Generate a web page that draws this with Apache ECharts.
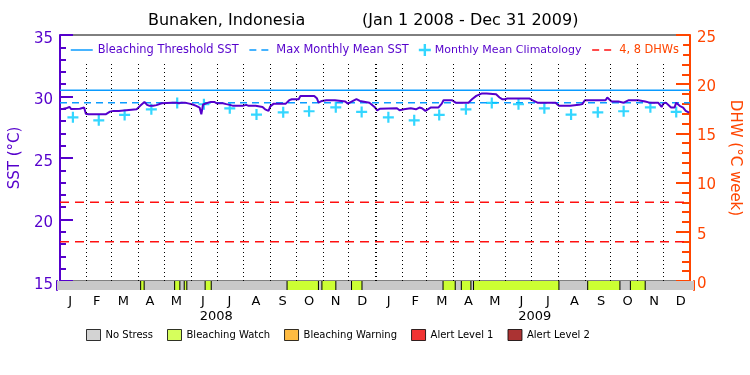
<!DOCTYPE html>
<html><head><meta charset="utf-8">
<script src="https://cdn.jsdelivr.net/npm/echarts@6/dist/echarts.min.js"></script>
<style>html,body{margin:0;padding:0;background:#fff}#c{width:750px;height:375px}</style>
</head><body><div id="c"></div>
<script>
const titleText = 'Bunaken, Indonesia';
const periodText = '(Jan 1 2008 - Dec 31 2009)';
const monthLabels = ['J','F','M','A','M','J','J','A','S','O','N','D','J','F','M','A','M','J','J','A','S','O','N','D'];
const yearLabels = ['2008','2009'];
const xStart = '2008-01-01';
const xEnd = '2010-01-01';
const monthStarts = ['2008-02-01','2008-03-01','2008-04-01','2008-05-01','2008-06-01','2008-07-01','2008-08-01','2008-09-01','2008-10-01','2008-11-01','2008-12-01','2009-01-01','2009-02-01','2009-03-01','2009-04-01','2009-05-01','2009-06-01','2009-07-01','2009-08-01','2009-09-01','2009-10-01','2009-11-01','2009-12-01'];
const yearStart = '2009-01-01';

const sstDates = ['2008-01-01','2008-01-05','2008-01-08','2008-01-12','2008-01-14','2008-01-24','2008-01-26','2008-01-29','2008-01-31','2008-02-03','2008-02-23','2008-02-25','2008-02-28','2008-03-03','2008-03-09','2008-03-11','2008-03-30','2008-04-01','2008-04-03','2008-04-08','2008-04-11','2008-04-14','2008-04-18','2008-04-22','2008-04-28','2008-05-10','2008-05-15','2008-05-18','2008-05-21','2008-05-23','2008-05-25','2008-05-30','2008-06-03','2008-06-07','2008-06-11','2008-06-13','2008-06-15','2008-06-17','2008-06-21','2008-06-24','2008-06-28','2008-07-01','2008-07-08','2008-07-12','2008-07-16','2008-07-20','2008-07-31','2008-08-04','2008-08-07','2008-08-15','2008-08-17','2008-08-23','2008-08-26','2008-08-28','2008-08-30','2008-09-01','2008-09-05','2008-09-19','2008-09-23','2008-09-26','2008-10-04','2008-10-06','2008-10-12','2008-10-14','2008-10-16','2008-10-22','2008-10-25','2008-10-27','2008-10-29','2008-10-31','2008-11-05','2008-11-15','2008-11-17','2008-11-27','2008-11-30','2008-12-06','2008-12-10','2008-12-14','2008-12-16','2008-12-25','2008-12-27','2008-12-31','2009-01-03','2009-01-06','2009-01-08','2009-01-26','2009-01-29','2009-02-03','2009-02-11','2009-02-17','2009-02-21','2009-02-24','2009-02-28','2009-03-02','2009-03-06','2009-03-15','2009-03-19','2009-03-21','2009-03-31','2009-04-04','2009-04-19','2009-04-23','2009-04-28','2009-05-04','2009-05-10','2009-05-12','2009-05-21','2009-05-25','2009-05-28','2009-05-31','2009-06-03','2009-06-29','2009-07-02','2009-07-04','2009-07-08','2009-07-29','2009-07-31','2009-08-02','2009-08-15','2009-08-17','2009-08-25','2009-08-29','2009-09-01','2009-09-25','2009-09-27','2009-09-29','2009-10-02','2009-10-10','2009-10-12','2009-10-16','2009-10-18','2009-10-22','2009-11-02','2009-11-04','2009-11-10','2009-11-15','2009-11-25','2009-11-27','2009-11-29','2009-12-01','2009-12-04','2009-12-06','2009-12-10','2009-12-14','2009-12-16','2009-12-20','2009-12-24','2009-12-27','2009-12-31'];
const sstValues = [28.96,29.0,29.04,29.15,28.98,29.0,29.1,29.1,28.6,28.55,28.55,28.7,28.77,28.83,28.83,28.96,28.96,29.04,29.24,29.56,29.32,29.24,29.24,29.3,29.45,29.5,29.5,29.45,29.5,29.59,29.5,29.42,29.35,29.24,29.1,28.55,29.35,29.5,29.5,29.56,29.56,29.45,29.45,29.38,29.32,29.24,29.24,29.32,29.24,29.24,29.32,29.15,28.96,28.83,28.83,29.2,29.42,29.42,29.7,29.78,29.78,30.05,30.05,29.92,30.05,30.05,29.86,29.5,29.5,29.64,29.7,29.7,29.59,29.59,29.42,29.64,29.78,29.64,29.5,29.5,29.42,29.15,28.88,29.0,29.04,29.04,28.88,28.96,29.04,28.96,29.1,29.04,28.83,28.96,29.1,29.1,29.42,29.7,29.7,29.5,29.5,29.78,30.05,30.24,30.24,30.18,30.18,29.92,29.78,29.78,29.83,29.83,29.7,29.59,29.5,29.5,29.38,29.24,29.24,29.32,29.32,29.38,29.7,29.7,29.92,29.78,29.59,29.59,29.5,29.5,29.64,29.7,29.7,29.59,29.59,29.5,29.5,29.4,29.15,29.42,29.5,29.42,29.1,29.1,29.5,29.24,29.1,28.83,28.69];

const climDates = ['2008-01-16','2008-02-15','2008-03-16','2008-04-16','2008-05-16','2008-06-16','2008-07-16','2008-08-16','2008-09-16','2008-10-16','2008-11-16','2008-12-16','2009-01-16','2009-02-15','2009-03-16','2009-04-16','2009-05-16','2009-06-16','2009-07-16','2009-08-16','2009-09-16','2009-10-16','2009-11-16','2009-12-16'];
const climValues = [28.31,28.06,28.5,28.96,29.48,29.37,29.04,28.53,28.71,28.8,29.12,28.75,28.31,28.06,28.5,28.96,29.48,29.37,29.04,28.53,28.71,28.8,29.12,28.75];

const bleachingThreshold = 30.5;
const maxMonthlyMean = 29.5;
const dhwLevels = [4, 8];

const statusNames = ['No Stress','Bleaching Watch','Bleaching Warning','Alert Level 1','Alert Level 2'];
const statusColors = ['#c8c8c8','#ccff33','#ffaa11','#ee0000','#960000'];
const watchStart = ['2008-04-06','2008-05-15','2008-05-26','2008-06-19','2008-09-21','2008-10-31','2008-12-04','2009-03-19','2009-04-09','2009-04-23','2009-09-01','2009-10-20'];
const watchEnd   = ['2008-04-10','2008-05-21','2008-05-29','2008-06-26','2008-10-27','2008-11-16','2008-12-16','2009-04-02','2009-04-20','2009-07-30','2009-10-08','2009-11-06'];
const watchLevel = [1,1,1,1,1,1,1,1,1,1,1,1];

const PURPLE = '#5500cc';
const ORANGE = '#ff4500';
const BLUE = '#0a9bff';
const CYAN = '#00ccff';
const RED = '#ff1010';

const sstData = sstDates.map((d, i) => [d, sstValues[i]]);
const climData = climDates.map((d, i) => [d, climValues[i]]);
const stripData = [[xStart, xEnd, 0]].concat(watchStart.map((s, i) => [s, watchEnd[i], watchLevel[i]]));
const dhwData = [];
dhwLevels.forEach((v, i) => { if (i) dhwData.push([xEnd, '-']); dhwData.push([xStart, v], [xEnd, v]); });

const noSymbol = {opacity: 0};
const chart = echarts.init(document.getElementById('c'), null, {renderer: 'canvas'});
chart.setOption({
  animation: false,
  backgroundColor: '#fff',
  textStyle: {fontFamily: 'DejaVu Sans'},
  title: [
    {text: titleText, left: 148, top: 13, padding: 0, textStyle: {fontSize: 16, fontWeight: 'normal', color: '#000', fontFamily: 'DejaVu Sans'}},
    {text: periodText, left: 362, top: 13, padding: 0, textStyle: {fontSize: 16, fontWeight: 'normal', color: '#000', fontFamily: 'DejaVu Sans'}}
  ],
  legend: [
    {
      left: 66, top: 36, padding: [8, 4, 6, 4], itemWidth: 22, itemHeight: 12, itemGap: 10,
      backgroundColor: '#fff', z: 10,
      textStyle: {fontSize: 11.4, color: PURPLE, fontFamily: 'DejaVu Sans'},
      data: [
        {name: 'Bleaching Threshold SST', itemStyle: noSymbol, lineStyle: {width: 1.5, type: 'solid'}},
        {name: 'Max Monthly Mean SST', itemStyle: noSymbol, lineStyle: {width: 1.5, type: [7, 5]}},
        {name: 'Monthly Mean Climatology', textStyle: {fontSize: 11, padding: [0, 0, 0, -6]}},
        {name: '4, 8 DHWs', itemStyle: noSymbol, lineStyle: {width: 1.5, type: [7, 5]}, textStyle: {color: ORANGE}}
      ]
    },
    {
      left: 86, top: 329, padding: 0, itemWidth: 14, itemHeight: 11, itemGap: 14, icon: 'rect',
      itemStyle: {borderColor: '#000', borderWidth: 1},
      textStyle: {fontSize: 10, color: '#000', fontFamily: 'DejaVu Sans'},
      data: statusNames
    }
  ],
  grid: [
    {left: 57, right: 56, top: 35, height: 246, show: true, borderColor: '#000', borderWidth: 1, backgroundColor: 'transparent'},
    {left: 57, right: 56, top: 281, height: 9, show: false}
  ],
  xAxis: [
    {type: 'time', gridIndex: 0, min: xStart, max: xEnd, axisLine: {show: false}, axisTick: {show: false}, axisLabel: {show: false}, splitLine: {show: false}},
    {type: 'time', gridIndex: 1, min: xStart, max: xEnd, show: false},
    {type: 'category', gridIndex: 1, position: 'bottom', data: monthLabels, axisLine: {show: false}, axisTick: {show: false},
     axisLabel: {interval: 0, margin: 5, fontSize: 13, color: '#000', fontFamily: 'DejaVu Sans'}},
    {type: 'category', gridIndex: 1, position: 'bottom', offset: 16, data: yearLabels, axisLine: {show: false}, axisTick: {show: false},
     axisLabel: {interval: 0, margin: 4, fontSize: 13, color: '#000', fontFamily: 'DejaVu Sans'}}
  ],
  yAxis: [
    {type: 'value', gridIndex: 0, position: 'left', min: 15, max: 35, interval: 5,
     name: 'SST (°C)', nameLocation: 'middle', nameRotate: 90, nameGap: 32,
     nameTextStyle: {fontSize: 15, color: PURPLE, fontFamily: 'DejaVu Sans'},
     axisLine: {show: true, lineStyle: {color: PURPLE, width: 2}},
     axisTick: {show: true, inside: true, length: 13, lineStyle: {color: PURPLE, width: 2}},
     minorTick: {show: true, splitNumber: 5, length: 6, lineStyle: {color: PURPLE, width: 2}},
     axisLabel: {fontSize: 15, color: PURPLE, margin: 7, verticalAlign: 'top', lineHeight: 8, fontFamily: 'DejaVu Sans'},
     splitLine: {show: false}},
    {type: 'value', gridIndex: 0, position: 'right', min: 0, max: 25, interval: 5,
     name: 'DHW (°C week)', nameLocation: 'middle', nameRotate: -90, nameGap: 30,
     nameTextStyle: {fontSize: 15, color: ORANGE, fontFamily: 'DejaVu Sans'},
     axisLine: {show: true, lineStyle: {color: ORANGE, width: 2}},
     axisTick: {show: true, inside: true, length: 14, lineStyle: {color: ORANGE, width: 2}},
     minorTick: {show: true, splitNumber: 5, length: 8, lineStyle: {color: ORANGE, width: 2}},
     axisLabel: {fontSize: 15, color: ORANGE, margin: 7, verticalAlign: 'top', lineHeight: 6, fontFamily: 'DejaVu Sans'},
     splitLine: {show: false}},
    {type: 'value', gridIndex: 1, position: 'left', min: 0, max: 1, axisLine: {show: true, lineStyle: {color: PURPLE, width: 2}}, axisTick: {show: false}, axisLabel: {show: false}, splitLine: {show: false}},
    {type: 'value', gridIndex: 1, position: 'right', min: 0, max: 1, axisLine: {show: true, lineStyle: {color: ORANGE, width: 2}}, axisTick: {show: false}, axisLabel: {show: false}, splitLine: {show: false}}
  ],
  series: [
    {name: '4, 8 DHWs', type: 'line', xAxisIndex: 0, yAxisIndex: 1, data: dhwData, symbol: 'none', connectNulls: false,
     lineStyle: {color: RED, width: 1.5, type: [9, 6]}, itemStyle: {color: RED}, silent: true},
    {name: 'Bleaching Threshold SST', type: 'line', xAxisIndex: 0, yAxisIndex: 0, data: [[xStart, bleachingThreshold], [xEnd, bleachingThreshold]],
     symbol: 'none', lineStyle: {color: BLUE, width: 1.5}, itemStyle: {color: BLUE}, silent: true},
    {name: 'Max Monthly Mean SST', type: 'line', xAxisIndex: 0, yAxisIndex: 0, data: [[xStart, maxMonthlyMean], [xEnd, maxMonthlyMean]],
     symbol: 'none', lineStyle: {color: BLUE, width: 1.5, type: [7, 5]}, itemStyle: {color: BLUE}, silent: true},
    {name: 'Monthly Mean Climatology', type: 'scatter', xAxisIndex: 0, yAxisIndex: 0, data: climData,
     symbol: 'path://M4,0H6V4H10V6H6V10H4V6H0V4H4Z', symbolSize: 11, itemStyle: {color: CYAN}, silent: true, z: 3},
    {name: 'SST', type: 'line', xAxisIndex: 0, yAxisIndex: 0, data: sstData, symbol: 'none', z: 4,
     lineStyle: {color: PURPLE, width: 2}, itemStyle: {color: PURPLE}, silent: true,
     markLine: {silent: true, symbol: ['none', 'none'], label: {show: false},
       lineStyle: {color: '#000', type: [1, 3], width: 1},
       data: monthStarts.map(d => ({xAxis: d, lineStyle: {color: '#000', type: [1, 3], width: d === yearStart ? 2 : 1}}))}},
    {name: 'Status', type: 'custom', xAxisIndex: 1, yAxisIndex: 2, data: stripData,
     dimensions: [{name: 's', type: 'time'}, {name: 'e', type: 'time'}, {name: 'lvl', type: 'number'}],
     encode: {x: [0, 1], y: 2}, silent: true, clip: false,
     renderItem: function (params, api) {
       const a = api.coord([api.value(0), 0]);
       const b = api.coord([api.value(1), 1]);
       const lvl = api.value(2);
       const x0 = a[0], x1 = b[0], yb = a[1], yt = b[1];
       const children = [{type: 'rect', shape: {x: x0, y: yt, width: x1 - x0, height: yb - yt}, style: {fill: statusColors[lvl]}}];
       if (lvl > 0) {
         children.push({type: 'line', shape: {x1: x0, y1: yt, x2: x0, y2: yb}, style: {stroke: '#000', lineWidth: 1}});
         children.push({type: 'line', shape: {x1: x1, y1: yt, x2: x1, y2: yb}, style: {stroke: '#000', lineWidth: 1}});
       }
       return {type: 'group', children: children};
     }},
    ...statusNames.map((n, i) => ({name: n, type: 'scatter', xAxisIndex: 1, yAxisIndex: 2, data: [], symbol: 'rect',
      itemStyle: {color: statusColors[i], borderColor: '#000', borderWidth: 1}}))
  ]
});
</script></body></html>
